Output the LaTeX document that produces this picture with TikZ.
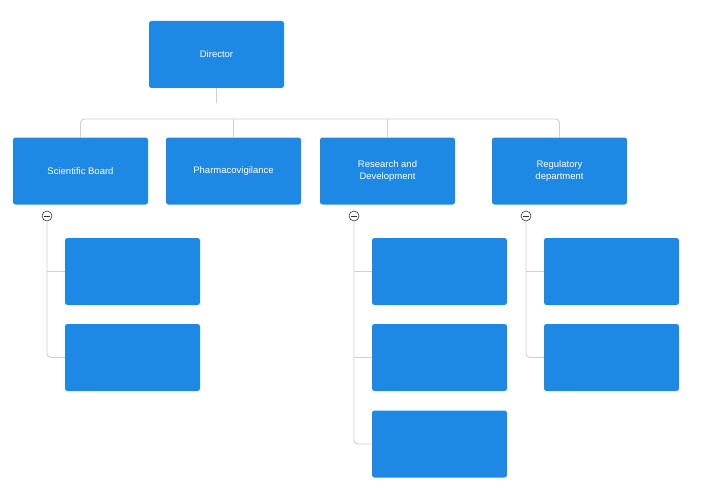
\documentclass[tikz,border=0pt]{standalone}
\usepackage{fontspec}
\setmainfont{Liberation Sans}
\definecolor{boxblue}{HTML}{1E88E5}
\definecolor{linegray}{HTML}{CFCFCF}
\begin{document}
\begin{tikzpicture}[x=1pt,y=-1pt,
  box/.style={draw=none,fill=boxblue,rounded corners=2.5pt,minimum width=135pt,minimum height=67pt,text=white,align=center,font=\fontsize{9.5}{11.5}\selectfont,inner sep=0pt},
  ln/.style={draw=linegray,line width=0.9pt,rounded corners=4pt},
  tog/.style={circle,draw=black!80,fill=white,line width=0.6pt,minimum size=10pt,inner sep=0pt}]
\useasboundingbox (0,0) rectangle (703,484);
\node[box] (dir) at (216.5,54.5) {Director};
\node[box] (sb) at (80.5,171) {Scientific Board};
\node[box] (ph) at (233.5,171) {Pharmacovigilance};
\node[box] (rd) at (387.5,171) {Research and\\ Development};
\node[box] (rg) at (559.5,171) {Regulatory\\ department};
\coordinate (d1) at (216.5,103);
\draw[ln] (dir.south) -- (d1);
\draw[ln] (sb.north) -- (80.5,119) -- (559.5,119) -- (rg.north);
\draw[ln] (ph.north) -- (233.5,119);
\draw[ln] (rd.north) -- (387.5,119);
% children
\foreach \n/\x/\cx in {sb/47/132.5, rd/354/439.5, rg/526/611.5}{
  \node[tog] (t\n) at (\x,216) {};
  \draw[line width=0.6pt,black!80] (\x-3,216) -- (\x+3,216);
}
\node[box] (sb1) at (132.5,271.5) {};
\node[box] (sb2) at (132.5,357.5) {};
\node[box] (rd1) at (439.5,271.5) {};
\node[box] (rd2) at (439.5,357.5) {};
\node[box] (rd3) at (439.5,444) {};
\node[box] (rg1) at (611.5,271.5) {};
\node[box] (rg2) at (611.5,357.5) {};
\draw[ln] (tsb.south) -- (47,357.5) -- (sb2.west);
\draw[ln] (47,271.5) -- (sb1.west);
\draw[ln] (trd.south) -- (354,444) -- (rd3.west);
\draw[ln] (354,271.5) -- (rd1.west);
\draw[ln] (354,357.5) -- (rd2.west);
\draw[ln] (trg.south) -- (526,357.5) -- (rg2.west);
\draw[ln] (526,271.5) -- (rg1.west);
\end{tikzpicture}
\end{document}
